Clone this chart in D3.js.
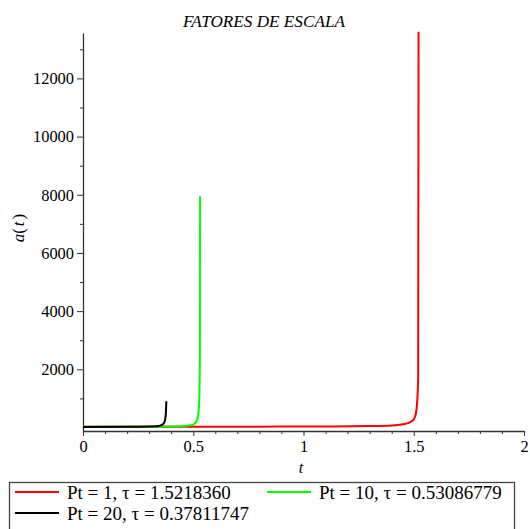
<!DOCTYPE html>
<html>
<head>
<meta charset="utf-8">
<script src="https://cdn.jsdelivr.net/npm/d3@7"></script>
<style>
  body { margin: 0; background: #fff; }
  .axis path, .axis line { stroke: #333; }
</style>
</head>
<body>
<script>
// series (t, a(t))
var redT   = [0, 0.4, 0.8, 1.1, 1.3, 1.4, 1.45, 1.48, 1.5, 1.51, 1.516, 1.52, 1.5218];
var redA   = [25, 27, 30, 36, 48, 70, 110, 170, 280, 490, 950, 1700, 13600];
var greenT = [0, 0.2, 0.35, 0.42, 0.46, 0.49, 0.505, 0.515, 0.522, 0.527, 0.530, 0.5309];
var greenA = [22, 25, 30, 38, 50, 75, 120, 220, 420, 900, 2500, 7950];
var blackT = [0, 0.2, 0.3, 0.33, 0.35, 0.36, 0.368, 0.373, 0.376, 0.378];
var blackA = [20, 24, 32, 42, 65, 100, 170, 300, 520, 900];

var seriesNames  = ["Pt = 1, \u03c4 = 1.5218360", "Pt = 10, \u03c4 = 0.53086779", "Pt = 20, \u03c4 = 0.37811747"];
var seriesColors = ["#ff0000", "#00ff00", "#000000"];

var xMajor = [0, 0.5, 1, 1.5, 2];
var yMajor = [2000, 4000, 6000, 8000, 10000, 12000];
var yMinor = [1000, 3000, 5000, 7000, 9000, 11000, 13000];

var serif = "'Liberation Serif', 'Times New Roman', 'DejaVu Serif', serif";
var width = 530, height = 529;

var svg = d3.select("body").append("svg")
    .attr("width", width)
    .attr("height", height)
    .style("display", "block");

// scale a text's font size so it spans about `w` pixels
function fitSize(node, w) {
    var fs = parseFloat(window.getComputedStyle(node).fontSize);
    var len = node.getComputedTextLength();
    return len > 0 ? fs * w / len : fs;
}

var x = d3.scaleLinear().domain([0, 2]).range([83, 524]);
var y = d3.scaleLinear().domain([-120, 13560]).range([431, 33]);

var xMinor = d3.range(0, 2.001, 0.1).filter(function(v) {
    return Math.abs(v * 2 - Math.round(v * 2)) > 1e-6;
});

// title
var title = svg.append("text")
    .attr("x", 264).attr("y", 27)
    .attr("text-anchor", "middle")
    .style("font-family", serif)
    .style("font-size", "16px")
    .style("font-style", "italic")
    .text("FATORES DE ESCALA");
title.style("font-size", fitSize(title.node(), 162) + "px");

// minor ticks
svg.append("g").attr("class", "axis")
    .attr("transform", "translate(0,431)")
    .call(d3.axisBottom(x).tickValues(xMinor).tickSize(3).tickFormat(""))
    .select(".domain").remove();
svg.append("g").attr("class", "axis")
    .attr("transform", "translate(83,0)")
    .call(d3.axisLeft(y).tickValues(yMinor).tickSize(3).tickFormat(""))
    .select(".domain").remove();

// major axes
var xAxis = svg.append("g").attr("class", "axis major")
    .attr("transform", "translate(0,431)")
    .call(d3.axisBottom(x).tickValues(xMajor).tickSize(5).tickSizeOuter(0)
        .tickFormat(function(d) { return String(d); }));
xAxis.selectAll("text").attr("y", 9);

var yAxis = svg.append("g").attr("class", "axis major")
    .attr("transform", "translate(83,0)")
    .call(d3.axisLeft(y).tickValues(yMajor).tickSize(6).tickSizeOuter(0)
        .tickFormat(function(d) { return String(d); }));
yAxis.selectAll("text").attr("x", -9);

svg.selectAll(".axis")
    .attr("font-family", serif)
    .attr("font-size", 16);
svg.selectAll(".axis text").attr("fill", "#000");
svg.selectAll(".domain").attr("stroke-width", 1.3);

// tick labels sized so "12000" is ~41px wide
var tickSize = fitSize(yAxis.selectAll("text").filter(function(d) { return d === 12000; }).node(), 41);
svg.selectAll(".major").attr("font-size", tickSize);

// axis labels
svg.append("text")
    .attr("x", 301).attr("y", 473)
    .attr("text-anchor", "middle")
    .style("font-family", serif)
    .style("font-size", tickSize + "px")
    .style("font-style", "italic")
    .text("t");

var yl = svg.append("text")
    .attr("transform", "translate(24,228) rotate(-90)")
    .attr("text-anchor", "middle")
    .style("font-family", serif)
    .style("font-size", "17px");
yl.append("tspan").style("font-style", "italic").text("a");
yl.append("tspan").text("(");
yl.append("tspan").attr("dx", 2).style("font-style", "italic").text("t");
yl.append("tspan").attr("dx", 2).text(")");

// curves
var series = [
    d3.zip(redT, redA),
    d3.zip(greenT, greenA),
    d3.zip(blackT, blackA)
];

var line = d3.line()
    .x(function(d) { return x(d[0]); })
    .y(function(d) { return y(d[1]); })
    .curve(d3.curveMonotoneX);

svg.append("g").selectAll("path")
    .data(series)
    .enter()
    .append("path")
    .attr("d", line)
    .attr("fill", "none")
    .attr("stroke-width", 2)
    .attr("stroke", function(d, i) { return seriesColors[i]; });

// legend
var legend = svg.append("g");
legend.append("rect")
    .attr("x", 9.5).attr("y", 482.5)
    .attr("width", 505).attr("height", 60)
    .attr("fill", "none")
    .attr("stroke", "#444")
    .attr("stroke-width", 1.3);

var legendPos = [[15, 492], [267, 492], [15, 513]];
var items = legend.selectAll("g.item")
    .data(seriesNames)
    .enter()
    .append("g")
    .attr("class", "item")
    .attr("transform", function(d, i) { return "translate(" + legendPos[i] + ")"; });

items.append("line")
    .attr("x1", 0).attr("x2", 44)
    .attr("stroke-width", 2)
    .attr("stroke", function(d, i) { return seriesColors[i]; });

var legendText = items.append("text")
    .attr("x", 52).attr("y", 6.5)
    .style("font-family", serif)
    .style("font-size", "19px")
    .text(function(d) { return d; });
var legendSize = Math.min(19, fitSize(legendText.node(), 171));
legendText.style("font-size", legendSize + "px");
</script>
</body>
</html>
